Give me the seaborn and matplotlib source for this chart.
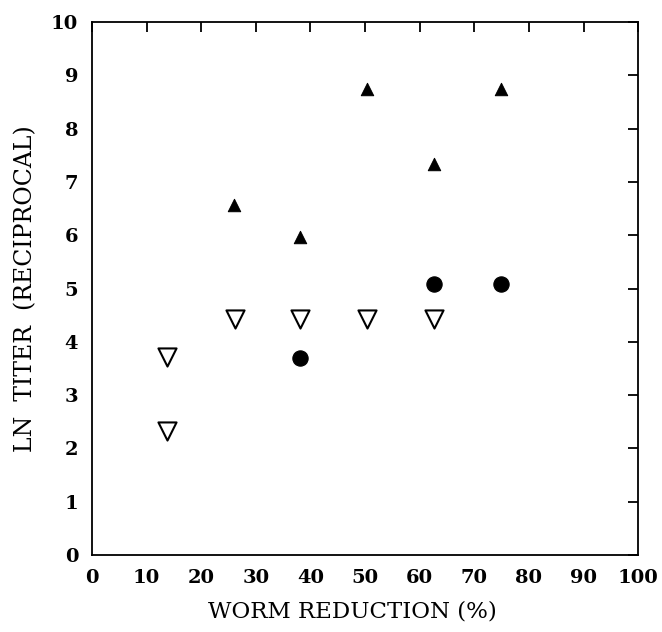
import matplotlib
matplotlib.use("Agg")
import matplotlib.pyplot as plt
import seaborn as sns
import pandas as pd

# open down-triangles
open_x = [13.7, 13.7, 26.2, 38.1, 50.4, 62.6]
open_y = [3.72, 2.32, 4.42, 4.42, 4.42, 4.42]
# filled circles
circ_x = [38.1, 62.6, 74.9]
circ_y = [3.70, 5.08, 5.08]
# filled up-triangles
tri_x = [26.0, 38.1, 50.4, 62.6, 74.9]
tri_y = [6.57, 5.97, 8.74, 7.34, 8.74]

sns.set_style("white")
plt.rcParams["font.family"] = ["DejaVu Serif"]
plt.rcParams["text.color"] = "black"
plt.rcParams["axes.labelcolor"] = "black"
plt.rcParams["xtick.color"] = "black"
plt.rcParams["ytick.color"] = "black"

fig = plt.figure(figsize=(6.62, 6.32), dpi=100)
ax = fig.add_axes([0.139, 0.122, 0.825, 0.843])

sns.scatterplot(x=open_x, y=open_y, marker="v", s=170, facecolor="white",
                edgecolor="black", linewidth=1.5, ax=ax)
sns.scatterplot(x=circ_x, y=circ_y, marker="o", s=120, color="black",
                edgecolor="black", ax=ax)
sns.scatterplot(x=tri_x, y=tri_y, marker="^", s=80, color="black",
                edgecolor="black", ax=ax)

ax.set_xlim(0, 100)
ax.set_ylim(0, 10)
ax.set_xticks(range(0, 101, 10))
ax.set_yticks(range(0, 11))
ax.tick_params(direction="in", length=7, width=1.3, top=True, right=True,
               labelsize=14, pad=10)
for lbl in ax.get_xticklabels() + ax.get_yticklabels():
    lbl.set_fontweight("bold")
for sp in ax.spines.values():
    sp.set_linewidth(1.3)
    sp.set_color("black")

ax.set_xlabel("WORM REDUCTION (%)", fontsize=16.5, labelpad=10)
ax.xaxis.label.set_x(0.476)
ax.set_ylabel("LN  TITER  (RECIPROCAL)", fontsize=17, labelpad=10)

fig.savefig("out.png", dpi=100)
